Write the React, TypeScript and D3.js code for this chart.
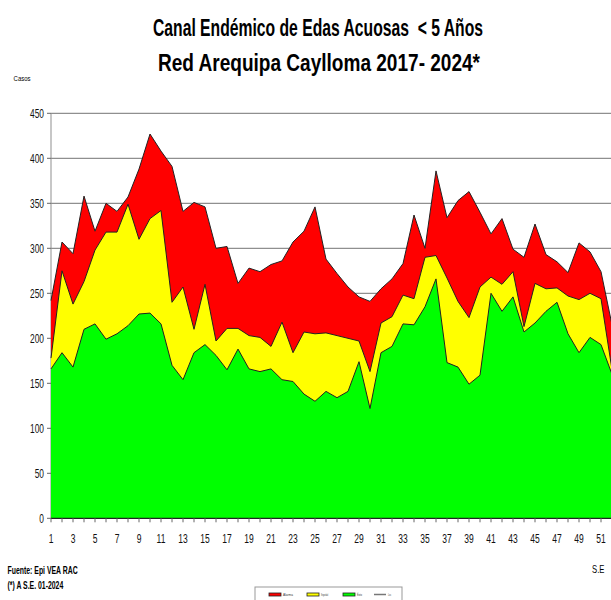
import React, { useLayoutEffect, useRef, useState } from "react";
import * as d3 from "d3";

const weeks: number[] = Array.from({ length: 52 }, (_, i) => i + 1);
const alarma: number[] = [242,307,294,358,319,350,341,357,388,427,408,391,341,351,346,300,302,261,278,274,282,286,307,319,346,288,272,257,246,241,255,266,283,337,300,386,334,353,363,340,316,333,299,290,327,293,285,273,306,296,274,215];
const seguridad: number[] = [178,275,238,263,298,318,318,349,310,333,342,240,257,210,260,197,211,211,203,201,191,218,184,207,205,206,203,200,197,163,217,224,248,244,290,292,267,241,223,257,268,260,274,213,261,255,256,247,243,250,244,165];
const exito: number[] = [166,184,168,210,216,199,205,214,227,228,216,170,154,184,193,181,165,188,166,163,166,154,152,138,130,141,134,141,174,122,184,191,216,215,235,266,173,168,149,159,250,230,246,207,217,230,240,205,184,201,193,160];
const yTicks: number[] = [0, 50, 100, 150, 200, 250, 300, 350, 400, 450];
const xLabels: number[] = weeks.filter((w) => w % 2 === 1);
const titleLines: string[] = ["Canal Endémico de Edas Acuosas\u00A0\u00A0< 5 Años", "Red Arequipa Caylloma 2017- 2024*"];
const legendItems = [
  { label: "Alarma", color: "#FF0000", kind: "area" },
  { label: "Seguridad", color: "#FFFF00", kind: "area" },
  { label: "Éxito", color: "#00FF00", kind: "area" },
  { label: "Casos", color: "#777777", kind: "line" },
];

const FONT = "'Liberation Sans', Arial, sans-serif";

function FitText(props: { cx: number; y: number; width: number; size: number; bold?: boolean; children: string }) {
  const ref = useRef<SVGTextElement>(null);
  const [sx, setSx] = useState(0.7);
  useLayoutEffect(() => {
    if (ref.current) {
      const w = ref.current.getComputedTextLength();
      if (w > 0) setSx(props.width / w);
    }
  }, [props.width, props.children]);
  return (
    <text
      ref={ref}
      transform={`translate(${props.cx},${props.y}) scale(${sx},1)`}
      textAnchor="middle"
      fontSize={props.size}
      fontWeight={props.bold ? "bold" : "normal"}
    >
      {props.children}
    </text>
  );
}

export default function App() {
  const W = 611, H = 600;
  const x = d3.scaleLinear().domain([1, 52]).range([51, 612]);
  const y = d3.scaleLinear().domain([0, 450]).range([518.3, 113.3]);

  const series = [
    { data: alarma, color: "#FF0000" },
    { data: seguridad, color: "#FFFF00" },
    { data: exito, color: "#00FF00" },
  ];
  const area = d3.area<number>().x((_, i) => x(weeks[i])).y0(y(0)).y1((d) => y(d));
  const line = d3.line<number>().x((_, i) => x(weeks[i])).y((d) => y(d));

  const legendX = [269, 307, 343, 374];
  const legendLabelW = [10, 7, 5, 3];

  return (
    <svg width={W} height={H} style={{ position: "absolute", left: 0, top: 0, background: "#fff" }} fontFamily={FONT}>
      <rect x={0} y={0} width={W} height={H} fill="#fff" />
      {/* title */}
      <FitText cx={318} y={36} width={330} size={23} bold>{titleLines[0]}</FitText>
      <FitText cx={319} y={71} width={322} size={23} bold>{titleLines[1]}</FitText>
      <text transform="translate(13.6,81) scale(0.75,1)" fontSize={8}>Casos</text>

      {/* gridlines */}
      {yTicks.filter((t) => t > 0).map((t) => (
        <line key={"g" + t} x1={x(1)} x2={W} y1={y(t)} y2={y(t)} stroke="#8f8f8f" strokeWidth={1.3} />
      ))}
      {/* y axis */}
      <line x1={x(1)} x2={x(1)} y1={y(450)} y2={y(0)} stroke="#8f8f8f" strokeWidth={1} />
      {yTicks.map((t) => (
        <g key={"y" + t}>
          <line x1={x(1) - 4} x2={x(1)} y1={y(t)} y2={y(t)} stroke="#666" strokeWidth={1} />
          <text transform={`translate(44,${y(t) + 5}) scale(0.62,1)`} textAnchor="end" fontSize={13.5} fill="#111">
            {t}
          </text>
        </g>
      ))}

      {/* areas */}
      {series.map((s, i) => (
        <g key={"s" + i}>
          <path d={area(s.data) || ""} fill={s.color} stroke="none" />
          <path d={line(s.data) || ""} fill="none" stroke="#222" strokeWidth={1} />
        </g>
      ))}

      {/* x axis */}
      <line x1={x(1)} x2={W} y1={y(0)} y2={y(0)} stroke="#222" strokeWidth={1.2} />
      {weeks.map((w) => (
        <line key={"xt" + w} x1={x(w)} x2={x(w)} y1={y(0)} y2={y(0) + 4} stroke="#666" strokeWidth={1} />
      ))}
      {xLabels.map((w) => (
        <text key={"xl" + w} transform={`translate(${x(w)},543) scale(0.63,1)`} textAnchor="middle" fontSize={13.5} fill="#111">
          {w}
        </text>
      ))}
      <text transform="translate(592,573) scale(0.7,1)" fontSize={11}>S.E</text>

      {/* footnotes */}
      <text transform="translate(7.5,574) scale(0.6,1)" fontSize={11.5} fontWeight="bold">
        Fuente: Epi VEA RAC
      </text>
      <text transform="translate(7.5,589) scale(0.6,1)" fontSize={11.5} fontWeight="bold">
        (*) A S.E. 01-2024
      </text>

      {/* legend */}
      <rect x={255} y={587} width={147} height={20} fill="#fff" stroke="#999" strokeWidth={1} />
      {legendItems.map((it, i) => (
        <g key={"lg" + i}>
          {it.kind === "area" ? (
            <rect x={legendX[i]} y={593} width={12} height={3} fill={it.color} stroke="#222" strokeWidth={0.8} />
          ) : (
            <line x1={legendX[i]} x2={legendX[i] + 12} y1={594.5} y2={594.5} stroke={it.color} strokeWidth={1.5} />
          )}
          <text x={legendX[i] + 14} y={596} fontSize={4} fill="#333" textLength={legendLabelW[i]} lengthAdjust="spacingAndGlyphs">
            {it.label}
          </text>
        </g>
      ))}
    </svg>
  );
}
